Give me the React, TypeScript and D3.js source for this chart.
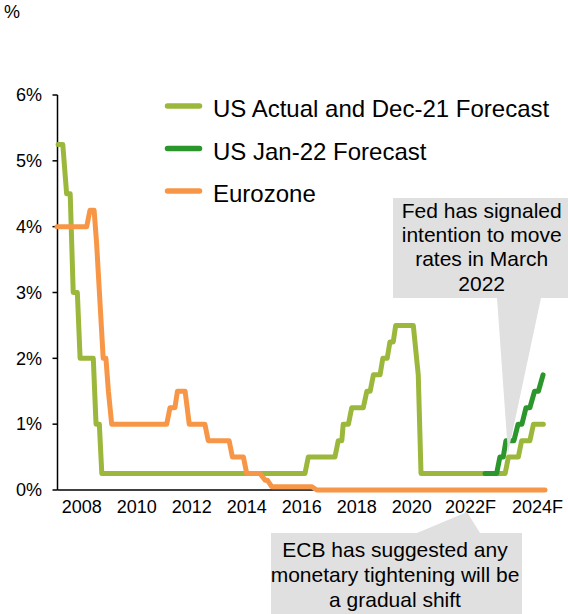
import React from "react";
import * as d3 from "d3";

type Pt = [number, number];

// Policy rates (%), x in axis years
const usActual: Pt[] = [
  [2007.14, 5.25], [2007.31, 5.25], [2007.45, 4.5], [2007.58, 4.5], [2007.69, 3.0],
  [2007.84, 3.0], [2007.94, 2.0], [2008.42, 2.0], [2008.52, 1.0], [2008.64, 1.0],
  [2008.73, 0.25], [2016.12, 0.25], [2016.24, 0.5], [2017.21, 0.5], [2017.33, 0.75],
  [2017.46, 0.75], [2017.51, 1.0], [2017.7, 1.0], [2017.82, 1.25], [2018.24, 1.25],
  [2018.37, 1.5], [2018.49, 1.5], [2018.61, 1.75], [2018.85, 1.75], [2018.95, 2.0],
  [2019.11, 2.0], [2019.21, 2.25], [2019.33, 2.25], [2019.42, 2.5], [2020.06, 2.5],
  [2020.24, 1.75], [2020.34, 0.25], [2023.4, 0.25], [2023.52, 0.5], [2023.88, 0.5],
  [2024.0, 0.75], [2024.3, 0.75], [2024.43, 1.0], [2024.79, 1.0],
];

const usJan22: Pt[] = [
  [2022.67, 0.25], [2023.09, 0.25], [2023.21, 0.5], [2023.33, 0.5], [2023.43, 0.75],
  [2023.72, 0.75], [2023.87, 1.0], [2024.01, 1.0], [2024.16, 1.25], [2024.3, 1.25],
  [2024.47, 1.5], [2024.61, 1.5], [2024.78, 1.75],
];

const eurozone: Pt[] = [
  [2007.1, 4.0], [2008.18, 4.0], [2008.3, 4.25], [2008.45, 4.25], [2008.54, 3.75],
  [2008.78, 2.0], [2008.88, 2.0], [2008.97, 1.5], [2009.09, 1.0], [2011.09, 1.0],
  [2011.21, 1.25], [2011.39, 1.25], [2011.48, 1.5], [2011.76, 1.5], [2011.91, 1.0],
  [2012.48, 1.0], [2012.6, 0.75], [2013.36, 0.75], [2013.48, 0.5], [2013.88, 0.5],
  [2014.0, 0.25], [2014.48, 0.25], [2014.67, 0.15], [2014.75, 0.15], [2014.91, 0.05],
  [2016.36, 0.05], [2016.55, 0.0], [2024.85, 0.0],
];

const yTicks = [0, 1, 2, 3, 4, 5, 6];
const xTickPos = [2008, 2010, 2012, 2014, 2016, 2018, 2020, 2022.14, 2024.58];
const xTickLabels = ["2008", "2010", "2012", "2014", "2016", "2018", "2020", "2022F", "2024F"];

const seriesNames = ["US Actual and Dec-21 Forecast", "US Jan-22 Forecast", "Eurozone"];
const seriesColors = ["#9bb83c", "#2b962b", "#f79646"];

const fedNote = ["Fed has signaled", "intention to move", "rates in March", "2022"];
const ecbNote = ["ECB has suggested any", "monetary tightening will be", "a gradual shift"];

const W = 568;
const H = 614;
const FONT = "'Liberation Sans', Arial, Helvetica, sans-serif";

export default function App() {
  const x = d3.scaleLinear().domain([2007.1, 2024.85]).range([57, 545]);
  const y = d3.scaleLinear().domain([0, 6]).range([490, 95]);

  const line = d3
    .line<Pt>()
    .x((d) => x(d[0]))
    .y((d) => y(d[1]));

  const series = [usActual, usJan22, eurozone];
  const axisY = 490;
  const axisX = 57.5;

  return (
    <svg
      width={W}
      height={H}
      viewBox={`0 0 ${W} ${H}`}
      style={{ position: "absolute", left: 0, top: 0, background: "#fff" }}
      fontFamily={FONT}
    >
      {/* unit label */}
      <text x={4} y={18} fontSize={18} fill="#000">%</text>

      {/* y axis */}
      <line x1={axisX} x2={axisX} y1={y(6)} y2={axisY} stroke="#000" strokeWidth={1.5} />
      {yTicks.map((t) => (
        <g key={t}>
          <line x1={axisX - 5} x2={axisX} y1={y(t)} y2={y(t)} stroke="#000" strokeWidth={1.5} />
          <text x={42} y={y(t)} dy="0.35em" fontSize={18} textAnchor="end" fill="#000">
            {t}%
          </text>
        </g>
      ))}

      {/* x axis */}
      <line x1={axisX} x2={x(2024.85)} y1={axisY} y2={axisY} stroke="#000" strokeWidth={1.5} />
      {xTickPos.map((p, i) => (
        <text key={i} x={x(p)} y={512.5} fontSize={18} textAnchor="middle" fill="#000">
          {xTickLabels[i]}
        </text>
      ))}

      {/* rate lines */}
      {series.map((s, i) => (
        <path
          key={i}
          d={line(s) || ""}
          fill="none"
          stroke={seriesColors[i]}
          strokeWidth={5}
          strokeLinejoin="round"
          strokeLinecap="round"
        />
      ))}

      {/* legend */}
      {seriesNames.map((n, i) => {
        const ly = 106 + i * 42.5;
        return (
          <g key={n}>
            <line
              x1={167.5}
              x2={199.5}
              y1={ly}
              y2={ly}
              stroke={seriesColors[i]}
              strokeWidth={5.5}
              strokeLinecap="round"
            />
            <text x={213} y={ly + 11} fontSize={24} fill="#000">
              {n}
            </text>
          </g>
        );
      })}

      {/* Fed callout */}
      <path d="M393,198 H572 V298 H541 L508,453 L497,298 H393 Z" fill="#e0e0e0" />
      {fedNote.map((t, i) => (
        <text key={t} x={481.7} y={218 + i * 24.2} fontSize={21} textAnchor="middle" fill="#000">
          {t}
        </text>
      ))}

      {/* ECB callout */}
      <path d="M271,533 H417 L467,512 L480,533 H522 V620 H271 Z" fill="#e0e0e0" />
      {ecbNote.map((t, i) => (
        <text key={t} x={395} y={557 + i * 25} fontSize={21} textAnchor="middle" fill="#000">
          {t}
        </text>
      ))}
    </svg>
  );
}
